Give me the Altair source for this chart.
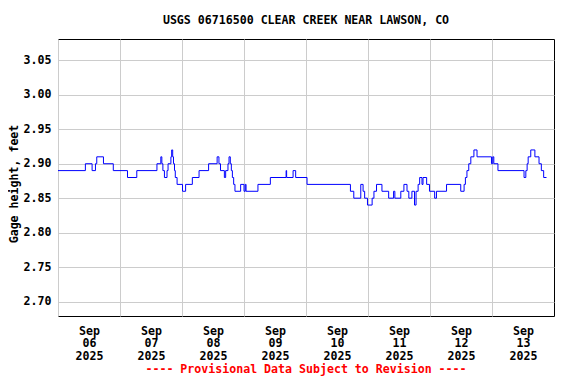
import altair as alt
import pandas as pd

# hours since 2025-09-06 00:00 (local) at which the gage value changes
hours = [0.0, 10.6, 13.2, 14.5, 15.0, 17.6, 21.4, 26.9, 30.5, 38.3,
         39.8, 40.2, 40.6, 41.2, 42.2, 42.6, 43.7, 44.0, 44.4, 44.7,
         45.1, 45.4, 46.1, 48.2, 49.4, 52.0, 54.6, 58.3, 61.6, 62.3,
         62.9, 64.4, 64.9, 65.8, 66.2, 66.7, 67.1, 67.5, 68.0, 68.5,
         70.7, 72.0, 72.5, 72.8, 77.4, 82.2, 88.3, 88.5, 91.0, 92.0,
         96.4, 113.2, 114.5, 117.2, 118.1, 118.7, 119.8, 121.6, 122.3, 123.3,
         125.4, 128.0, 129.9, 130.4, 132.7, 133.9, 135.1, 135.8, 137.0, 138.0,
         138.6, 139.4, 140.0, 140.9, 141.3, 142.7, 143.8, 145.8, 146.5, 150.4,
         155.9, 157.2, 157.7, 158.3, 159.0, 159.8, 161.0, 162.2, 167.8, 168.3,
         168.7, 170.3, 180.4, 181.1, 181.6, 182.0, 183.0, 184.6, 186.2, 187.1,
         188.0, 189.1]
gage = [2.89, 2.90, 2.89, 2.90, 2.91, 2.90, 2.89, 2.88, 2.89, 2.90,
        2.91, 2.90, 2.89, 2.88, 2.89, 2.90, 2.91, 2.92, 2.91, 2.90,
        2.89, 2.88, 2.87, 2.86, 2.87, 2.88, 2.89, 2.90, 2.91, 2.90,
        2.89, 2.88, 2.89, 2.90, 2.91, 2.90, 2.89, 2.88, 2.87, 2.86,
        2.87, 2.86, 2.87, 2.86, 2.87, 2.88, 2.89, 2.88, 2.89, 2.88,
        2.87, 2.86, 2.85, 2.87, 2.86, 2.85, 2.84, 2.85, 2.86, 2.87,
        2.86, 2.85, 2.86, 2.85, 2.86, 2.87, 2.86, 2.85, 2.86, 2.84,
        2.86, 2.87, 2.88, 2.87, 2.88, 2.87, 2.86, 2.85, 2.86, 2.87,
        2.86, 2.87, 2.88, 2.89, 2.90, 2.91, 2.92, 2.91, 2.90, 2.91,
        2.90, 2.89, 2.88, 2.89, 2.90, 2.91, 2.92, 2.91, 2.90, 2.89,
        2.88, 2.88]

y_ticks = [2.70, 2.75, 2.80, 2.85, 2.90, 2.95, 3.00, 3.05]
day_ticks = [alt.DateTime(year=2025, month=9, date=d) for d in range(6, 14)]

start = pd.Timestamp("2025-09-06 00:00")
df = pd.DataFrame({
    "time": [(start + pd.Timedelta(hours=h)).strftime("%Y-%m-%dT%H:%M:%S") for h in hours],
    "gage": gage,
})

FONT = "DejaVu Sans Mono"
W, H = 496, 277

line = alt.Chart(df).mark_line(
    color="#0000ff", strokeWidth=1, interpolate="step-after"
).encode(
    x=alt.X("time:T",
            scale=alt.Scale(domain=[alt.DateTime(year=2025, month=9, date=6),
                                    alt.DateTime(year=2025, month=9, date=14)]),
            axis=alt.Axis(values=day_ticks, title=None, grid=True, ticks=False,
                          tickSize=0, domain=False, labelOffset=31,
                          labelFlush=False, labelOverlap=False,
                          labelExpr="[timeFormat(datum.value, '%b'), timeFormat(datum.value, '%d'), timeFormat(datum.value, '%Y')]",
                          labelLineHeight=12.5, labelPadding=9)),
    y=alt.Y("gage:Q",
            scale=alt.Scale(domain=[2.679, 3.081], nice=False, zero=False),
            axis=alt.Axis(values=y_ticks, format=".2f", title="Gage height, feet",
                          grid=True, ticks=False, tickSize=0, domain=False,
                          labelPadding=7, titlePadding=4, titleY=H / 2 + 6)),
)

footer = alt.Chart(pd.DataFrame({"t": ["---- Provisional Data Subject to Revision ----"]})).mark_text(
    color="#ff0000", font=FONT, fontSize=11.6, fontWeight="bold", baseline="alphabetic"
).encode(x=alt.value(W / 2), y=alt.value(H + 57), text="t:N")

chart = alt.layer(line, footer).properties(
    width=W, height=H,
    background="white",
    title=alt.TitleParams("USGS 06716500 CLEAR CREEK NEAR LAWSON, CO",
                          font=FONT, fontSize=11.6, fontWeight="bold",
                          anchor="middle", frame="group", offset=12, color="black"),
    padding={"left": 50, "top": 31, "right": 14, "bottom": 60},
    autosize=alt.AutoSizeParams(type="none"),
).configure_view(
    stroke="black", strokeWidth=1
).configure_axis(
    labelFont=FONT, labelFontSize=11.6, labelFontWeight="bold", labelColor="black",
    titleFont=FONT, titleFontSize=11.6, titleFontWeight="bold", titleColor="black",
    gridColor="#cccccc", gridWidth=1, gridOpacity=1,
)

chart.save("out.html", embed_options={"renderer": "svg", "actions": False})
